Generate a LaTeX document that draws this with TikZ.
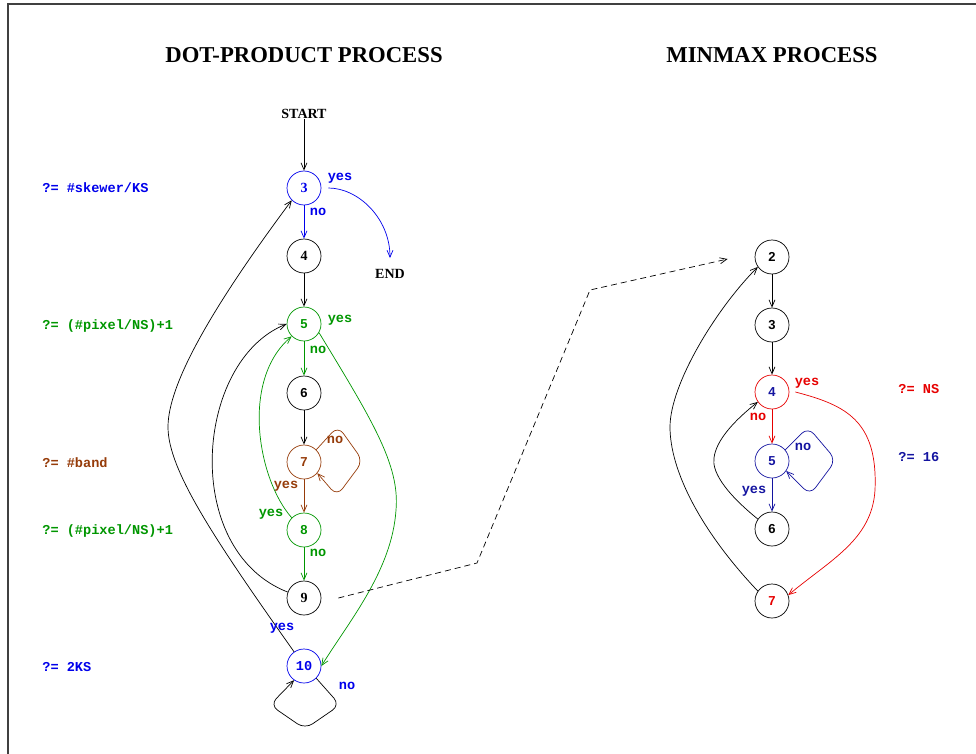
\documentclass[tikz,border=0pt]{standalone}
\usepackage{fontspec}
\setmainfont{Liberation Serif}
\setsansfont{Liberation Sans}
\setmonofont{Liberation Mono}
\usetikzlibrary{arrows.meta}
\definecolor{cblue}{RGB}{0,0,235}
\definecolor{cnavy}{RGB}{20,20,160}
\definecolor{cgreen}{RGB}{0,150,0}
\definecolor{cbrown}{RGB}{150,60,10}
\definecolor{cred}{RGB}{230,0,0}
\begin{document}
\begin{tikzpicture}[x=1pt,y=-1pt,
  >={Straight Barb[length=7pt,width=6pt]},
  line width=0.7pt,
  nd/.style={circle,draw,minimum size=34pt,inner sep=0pt,font=\sffamily\bfseries\fontsize{13}{13}\selectfont},
  ndserif/.style={nd,font=\bfseries\fontsize{14}{14}\selectfont},
  ndmono/.style={nd,font=\ttfamily\bfseries\fontsize{13.6}{14}\selectfont},
  lbl/.style={font=\ttfamily\bfseries\fontsize{13.6}{14}\selectfont,inner sep=0pt},
  side/.style={lbl,anchor=west},
  ttl/.style={font=\bfseries\fontsize{22.7}{24}\selectfont,inner sep=0pt},
  word/.style={font=\bfseries\fontsize{14}{14}\selectfont,inner sep=0pt},
  dashlink/.style={dash pattern=on 6pt off 4pt}]
\useasboundingbox (0,0) rectangle (976,754);
\draw[line width=1.2pt,black!75] (8,754) -- (8,4) -- (976,4);

% titles
\node[ttl] (t1) at (304,55) {DOT-PRODUCT PROCESS};
\node[ttl] (t2) at (772,55) {MINMAX PROCESS};

% left column
\node[word] (start) at (304,114) {START};
\node[word] (endn) at (390,274) {END};
\node[ndserif,draw=cblue,text=cblue] (n3) at (304,188) {3};
\node[ndserif] (n4) at (304,256) {4};
\node[nd,draw=cgreen,text=cgreen] (n5) at (304,324) {5};
\node[nd] (n6) at (304,393) {6};
\node[nd,draw=cbrown,text=cbrown] (n7) at (304,462) {7};
\node[nd,draw=cgreen,text=cgreen] (n8) at (304,530) {8};
\node[ndserif] (n9) at (304,598) {9};
\node[ndmono,draw=cblue,text=cblue] (n10) at (304,666) {10};

% right column
\node[nd] (r2) at (772,257) {2};
\node[nd] (r3) at (772,325) {3};
\node[nd,draw=cred,text=cnavy] (r4) at (772,392) {4};
\node[nd,draw=cnavy,text=cnavy] (r5) at (772,461) {5};
\node[nd] (r6) at (772,529) {6};
\node[nd,text=cred] (r7) at (772,601) {7};

% side labels
\node[side,text=cblue] (s1) at (42,188) {?= \#skewer/KS};
\node[side,text=cgreen] (s2) at (42,326) {?= (\#pixel/NS)+1};
\node[side,text=cbrown] (s3) at (42,463) {?= \#band};
\node[side,text=cgreen] (s4) at (42,531) {?= (\#pixel/NS)+1};
\node[side,text=cblue] (s5) at (42,667) {?= 2KS};
\node[side,text=cred] (s6) at (898,389) {?= NS};
\node[side,text=cnavy] (s7) at (898,457) {?= 16};

% left edges
\draw[->] (start) -- (n3);
\draw[->,cblue] (n3) -- (n4);
\node[lbl,text=cblue] (l3no) at (318,212) {no};
\draw[->,cblue] ([xshift=7pt]n3.east) .. controls (358,188) and (390,218) .. ([yshift=11pt]endn.north);
\node[lbl,text=cblue] (l3yes) at (340,178) {yes};
\draw[->] (n4) -- (n5);
\draw[->,cgreen] (n5) -- (n6);
\node[lbl,text=cgreen] (l5no) at (318,350) {no};
\node[lbl,text=cgreen] (l5yes) at (340,320) {yes};
\draw[->,cgreen] (n5.-30) .. controls (372,420) and (400,465) .. (396,510)
   .. controls (392,570) and (350,620) .. (n10.east);
\draw[->] (n6) -- (n7);
\draw[->,cbrown,rounded corners=9pt] (n7.45) -- (338,426) -- (363,461) -- (337,496) -- (n7.-40);
\node[lbl,text=cbrown] (l7no) at (335,440) {no};
\draw[->,cbrown] (n7) -- (n8);
\node[lbl,text=cbrown] (l7yes) at (286,486) {yes};
\draw[->,cgreen] (n8.135) .. controls (258,480) and (240,380) .. (n5.225);
\node[lbl,text=cgreen] (l8yes) at (271,514) {yes};
\draw[->,cgreen] (n8) -- (n9);
\node[lbl,text=cgreen] (l8no) at (318,553) {no};
\draw[->] (n9.160) .. controls (180,550) and (195,360) .. (n5.west);
\draw[->] (n10.125) .. controls (215,540) and (168,470) .. (168,427)
   .. controls (168,385) and (210,310) .. (n3.225);
\node[lbl,text=cblue] (l10yes) at (282,628) {yes};
\draw[->,rounded corners=9pt] (n10.-45) -- (340,705) -- (305,729) -- (270,705) -- (n10.-125);
\node[lbl,text=cblue] (l10no) at (347,686) {no};

% dashed link
\draw[->,dashlink] ([xshift=17pt]n9.east) -- (477,563) -- (590,290) -- ([xshift=-27pt,yshift=-2pt]r2.west);

% right edges
\draw[->] (r2) -- (r3);
\draw[->] (r3) -- (r4);
\draw[->,cred] (r4) -- (r5);
\node[lbl,text=cred] (r4no) at (758,417) {no};
\draw[->,cred] ([xshift=6pt]r4.east) .. controls (845,405) and (878,420) .. (875,490)
   .. controls (872,540) and (830,560) .. (r7.20);
\node[lbl,text=cred] (r4yes) at (807,383) {yes};
\draw[->,cnavy,rounded corners=9pt] (r5.40) -- (808,427) -- (836,460) -- (810,495) -- (r5.-35);
\node[lbl,text=cnavy] (r5no) at (803,447) {no};
\draw[->,cnavy] (r5) -- (r6);
\node[lbl,text=cnavy] (r5yes) at (754,491) {yes};
\draw[->] (r6.145) .. controls (722,490) and (712,470) .. (714,458)
   .. controls (716,440) and (735,420) .. (r4.215);
\draw[->] (r7.145) .. controls (700,530) and (670,470) .. (670,427)
   .. controls (670,385) and (715,310) .. (r2.215);
\end{tikzpicture}
\end{document}
